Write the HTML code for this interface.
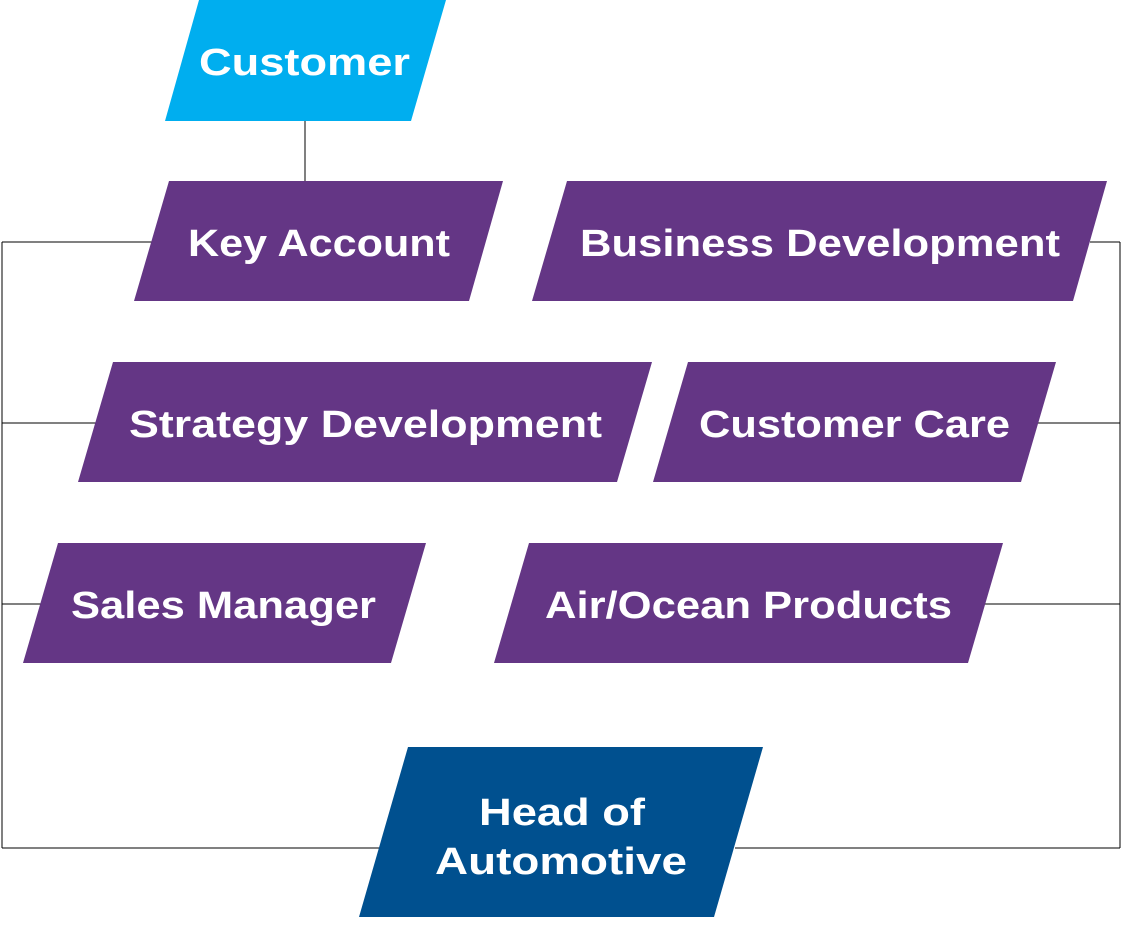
<!DOCTYPE html>
<html><head><meta charset="utf-8"><style>html,body{margin:0;padding:0;background:#fff;width:1122px;height:942px;overflow:hidden}</style></head>
<body>
<svg width="1122" height="942" xmlns="http://www.w3.org/2000/svg" font-family="Liberation Sans, sans-serif" font-weight="bold" font-size="38">
<g stroke="#000" stroke-width="1" fill="none">
<line x1="305" y1="121" x2="305" y2="181"/>
<line x1="2" y1="242" x2="2" y2="848"/>
<line x1="2" y1="242" x2="152" y2="242"/>
<line x1="2" y1="423" x2="96" y2="423"/>
<line x1="2" y1="604" x2="41" y2="604"/>
<line x1="2" y1="848" x2="380" y2="848"/>
<line x1="1120" y1="242" x2="1120" y2="848"/>
<line x1="1090" y1="242" x2="1120" y2="242"/>
<line x1="1038" y1="423" x2="1120" y2="423"/>
<line x1="985" y1="604" x2="1120" y2="604"/>
<line x1="735" y1="848" x2="1120" y2="848"/>
</g>
<polygon points="199,0 446,0 411,121 165,121" fill="#00AEEF"/>
<polygon points="169,181 503,181 469,301 134,301" fill="#643685"/>
<polygon points="567,181 1107,181 1073,301 532,301" fill="#643685"/>
<polygon points="113,362 652,362 617,482 78,482" fill="#643685"/>
<polygon points="688,362 1056,362 1021,482 653,482" fill="#643685"/>
<polygon points="58,543 426,543 391,663 23,663" fill="#643685"/>
<polygon points="529,543 1003,543 968,663 494,663" fill="#643685"/>
<polygon points="408,747 763,747 714,917 359,917" fill="#00508F"/>
<g fill="#fff">
<text x="199" y="75" textLength="211" lengthAdjust="spacingAndGlyphs">Customer</text>
<text x="188" y="256" textLength="262" lengthAdjust="spacingAndGlyphs">Key Account</text>
<text x="580" y="256" textLength="480" lengthAdjust="spacingAndGlyphs">Business Development</text>
<text x="129" y="437" textLength="473" lengthAdjust="spacingAndGlyphs">Strategy Development</text>
<text x="699" y="437" textLength="311" lengthAdjust="spacingAndGlyphs">Customer Care</text>
<text x="71" y="618" textLength="305" lengthAdjust="spacingAndGlyphs">Sales Manager</text>
<text x="545" y="618" textLength="407" lengthAdjust="spacingAndGlyphs">Air/Ocean Products</text>
<text x="479" y="825" textLength="166" lengthAdjust="spacingAndGlyphs">Head of</text>
<text x="435" y="874" textLength="252" lengthAdjust="spacingAndGlyphs">Automotive</text>
</g>
</svg>
</body></html>
